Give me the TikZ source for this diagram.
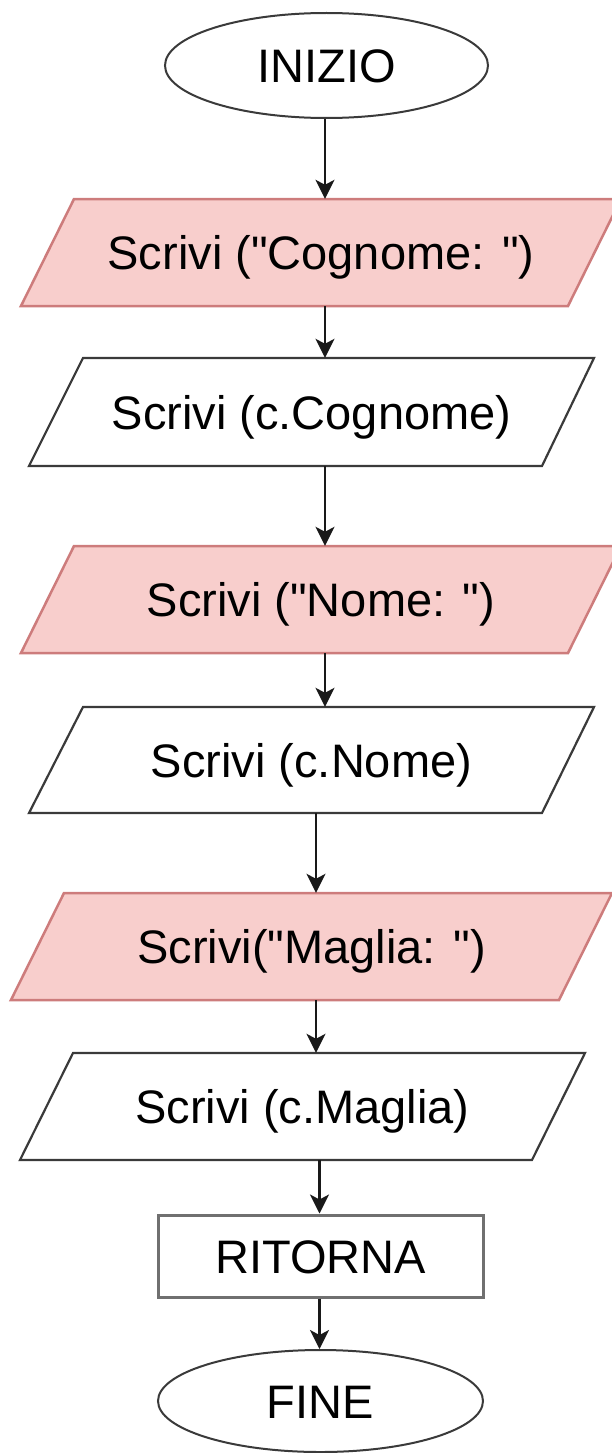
\documentclass[tikz,border=0pt]{standalone}
\usepackage{fontspec}
\setmainfont{Liberation Sans}[Ligatures=TeXOff]
\usetikzlibrary{arrows.meta,shapes.geometric}
\definecolor{pinkfill}{HTML}{F8CECC}
\definecolor{pinkline}{HTML}{CD7C7C}
\definecolor{darkline}{HTML}{3A3A3A}
\definecolor{grayline}{HTML}{707070}
\begin{document}
\begin{tikzpicture}[x=1pt,y=-1pt,
  lbl/.style={font=\fontsize{47}{56}\selectfont, text height=34pt, text depth=0pt, inner sep=0pt, text=black},
  term/.style={ellipse, draw=darkline, line width=2pt, fill=white, lbl},
  pinkpar/.style={fill=pinkfill, draw=pinkline, line width=2.5pt, line join=miter},
  whitepar/.style={fill=white, draw=darkline, line width=2.2pt, line join=miter},
  retbox/.style={rectangle, draw=grayline, line width=3pt, lbl},
  arr/.style={draw=black!90, line width=2.2pt, -{Stealth[length=19pt,width=19pt,inset=5pt]}}
]
\useasboundingbox (0,0) rectangle (611,1453);

\coordinate (ax1) at (325,0);
\coordinate (ax5) at (316,0);
\coordinate (ax7) at (319.5,0);

% INIZIO
\node[term, minimum width=323pt, minimum height=105pt] (inizio) at (326.5,65.5) {INIZIO};

% pink 1
\draw[pinkpar] (74,199) -- (621,199) -- (568,306) -- (21,306) -- cycle;
\node[lbl, minimum height=107pt] (p1) at (321,252.5) {Scrivi ("Cognome: ")};

% white 1
\draw[whitepar] (83,358) -- (594,358) -- (542,466) -- (29,466) -- cycle;
\node[lbl, minimum height=108pt] (w1) at (311.5,412) {Scrivi (c.Cognome)};

% pink 2
\draw[pinkpar] (74,546) -- (621,546) -- (568,653) -- (21,653) -- cycle;
\node[lbl, minimum height=107pt] (p2) at (321,599.5) {Scrivi ("Nome: ")};

% white 2
\draw[whitepar] (83,707) -- (594,707) -- (542,813) -- (29,813) -- cycle;
\node[lbl, minimum height=106pt] (w2) at (311.5,760) {Scrivi (c.Nome)};

% pink 3
\draw[pinkpar] (64,893) -- (612,893) -- (559,1000) -- (11,1000) -- cycle;
\node[lbl, minimum height=107pt] (p3) at (311.5,946.5) {Scrivi("Maglia: ")};

% white 3
\draw[whitepar] (73,1053) -- (585,1053) -- (532,1160) -- (20,1160) -- cycle;
\node[lbl, minimum height=107pt] (w3) at (302.5,1106.5) {Scrivi (c.Maglia)};

% RITORNA
\node[retbox, minimum width=325pt, minimum height=82pt] (ret) at (320.5,1256) {RITORNA};

% FINE
\node[term, minimum width=325pt, minimum height=102pt] (fine) at (320.5,1401) {FINE};

% arrows
\draw[arr] (inizio.south -| ax1) -- (p1.north -| ax1);
\draw[arr] (p1.south -| ax1) -- (w1.north -| ax1);
\draw[arr] (w1.south -| ax1) -- (p2.north -| ax1);
\draw[arr] (p2.south -| ax1) -- (w2.north -| ax1);
\draw[arr] (w2.south -| ax5) -- (p3.north -| ax5);
\draw[arr] (p3.south -| ax5) -- (w3.north -| ax5);
\draw[arr] (w3.south -| ax7) -- (ret.north -| ax7);
\draw[arr] (ret.south -| ax7) -- (fine.north -| ax7);
\end{tikzpicture}
\end{document}
